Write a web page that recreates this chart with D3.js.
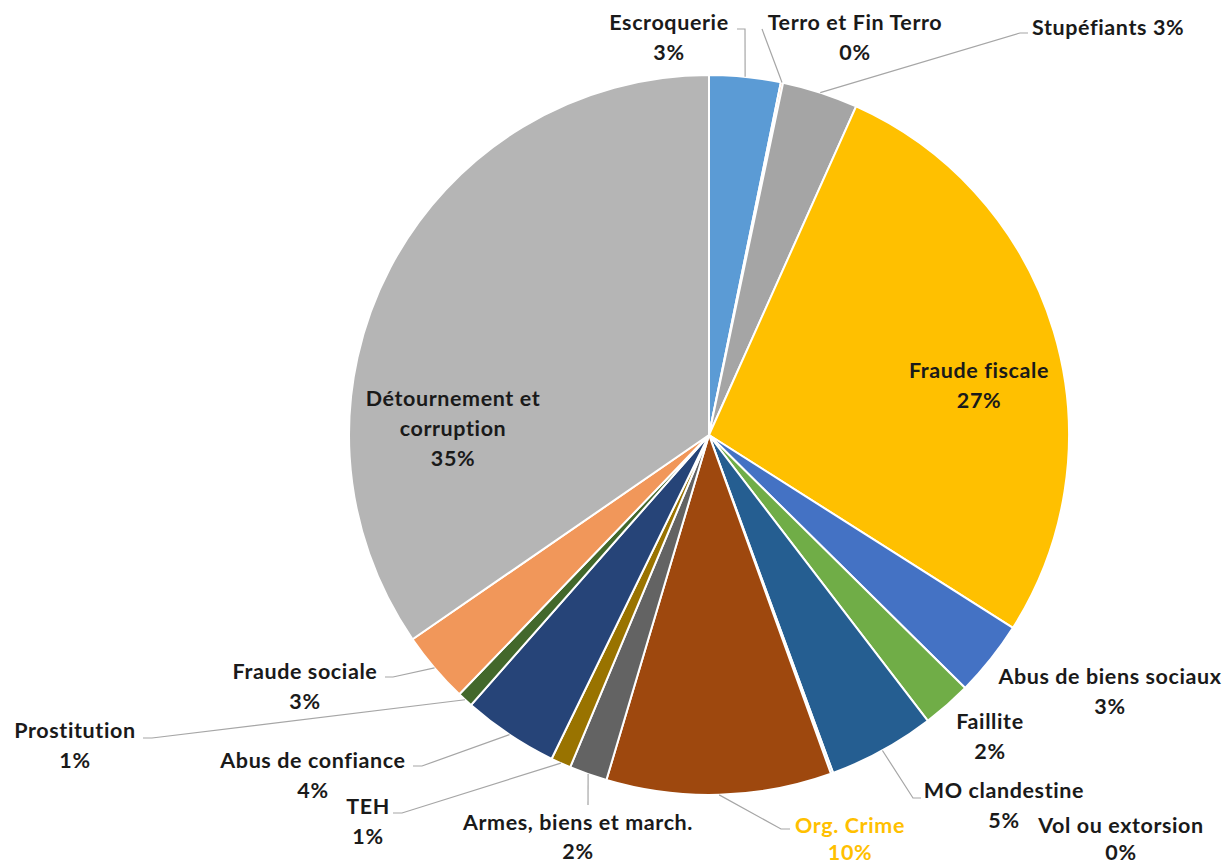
<!DOCTYPE html>
<html>
<head>
<meta charset="utf-8">
<script src="https://cdn.jsdelivr.net/npm/d3@7"></script>
<style>
  html, body { margin: 0; padding: 0; background: #ffffff; }
  svg text { font-family: Lato, "Open Sans", sans-serif; font-weight: bold; }
</style>
</head>
<body>
<svg id="chart" width="1228" height="865"></svg>
<script>
// ---- data ----
const categories = [
  "Escroquerie", "Terro et Fin Terro", "Stupéfiants", "Fraude fiscale",
  "Abus de biens sociaux", "Faillite", "MO clandestine", "Vol ou extorsion",
  "Org. Crime", "Armes, biens et march.", "TEH", "Abus de confiance",
  "Prostitution", "Fraude sociale", "Détournement et corruption"
];
const values = [3.2, 0.1, 3.4, 27.3, 3.4, 2.2, 4.8, 0.1, 10.1, 1.7, 0.9, 4.3, 0.7, 3.2, 34.6];
const colors = [
  "#5B9BD5", "#ED7D31", "#A5A5A5", "#FFC000", "#4472C4", "#70AD47", "#255E91", "#7CAFDD",
  "#9E480E", "#636363", "#997300", "#264478", "#43682B", "#F1975A", "#B5B5B5"
];

// ---- label layout (positions only) ----
const labelLayout = {
  "Escroquerie": { x: 669, y: 22, lead: [[745, 29], [737, 29]] },
  "Terro et Fin Terro": { x: 855, y: 22, lead: [[762, 29]] },
  "Stupéfiants": { x: 1032, y: 27, single: true, anchor: "start", lead: [[1020, 33], [1028, 33]] },
  "Fraude fiscale": { x: 979, y: 370 },
  "Abus de biens sociaux": { x: 1110, y: 676 },
  "Faillite": { x: 990, y: 721 },
  "MO clandestine": { x: 1004, y: 790, lead: [[913, 798], [921, 798]] },
  "Vol ou extorsion": { x: 1121, y: 825, gap: 27 },
  "Org. Crime": { x: 850, y: 825, gap: 27, color: "#FFC000", lead: [[781, 829], [790, 829]] },
  "Armes, biens et march.": { x: 578, y: 822, gap: 29, lead: [[588, 805]] },
  "TEH": { x: 368, y: 806, lead: [[402, 813], [393, 813]] },
  "Abus de confiance": { x: 313, y: 760, lead: [[422, 766], [413, 766]] },
  "Prostitution": { x: 75, y: 730, lead: [[152, 738], [143, 738]] },
  "Fraude sociale": { x: 305, y: 671, lead: [[393, 677], [385, 677]] },
  "Détournement et corruption": { x: 453, y: 398, lines: ["Détournement et", "corruption"] }
};

const svg = d3.select("#chart");
const cx = 709, cy = 435, R = 360;
const g = svg.append("g").attr("transform", `translate(${cx},${cy})`);

const data = categories.map((c, i) => ({ name: c, value: values[i], color: colors[i] }));
const total = d3.sum(values);

const pie = d3.pie().value(d => d.value).sort(null);
const arcs = pie(data);
const arc = d3.arc().innerRadius(0).outerRadius(R);

g.selectAll("path.slice")
  .data(arcs)
  .enter().append("path")
  .attr("class", "slice")
  .attr("d", arc)
  .attr("fill", d => d.data.color)
  .attr("stroke", "#ffffff")
  .attr("stroke-width", 2)
  .attr("stroke-linejoin", "round");

// leader lines
const lg = svg.append("g");
arcs.forEach(a => {
  const L = labelLayout[a.data.name];
  if (!L || !L.lead) return;
  const mid = (a.startAngle + a.endAngle) / 2;
  const p0 = [cx + R * Math.sin(mid), cy - R * Math.cos(mid)];
  const pts = [p0].concat(L.lead);
  lg.append("path")
    .attr("d", d3.line()(pts))
    .attr("fill", "none")
    .attr("stroke", "#A6A6A6")
    .attr("stroke-width", 1.2);
});

// labels
const tg = svg.append("g");
const fmt = v => Math.round(v / total * 100) + "%";
arcs.forEach(a => {
  const L = labelLayout[a.data.name];
  const pct = fmt(a.data.value);
  const lines = L.single ? [a.data.name + " " + pct]
              : (L.lines ? L.lines.concat([pct]) : [a.data.name, pct]);
  const t = tg.append("text")
    .attr("text-anchor", L.anchor || "middle")
    .attr("font-size", 21.5)
    .attr("letter-spacing", 0.6)
    .attr("fill", L.color || "#1a1a1a");
  lines.forEach((ln, i) => {
    t.append("tspan")
      .attr("x", L.x)
      .attr("y", L.y + i * (L.gap || 30))
      .attr("dominant-baseline", "central")
      .text(ln);
  });
});
</script>
</body>
</html>
